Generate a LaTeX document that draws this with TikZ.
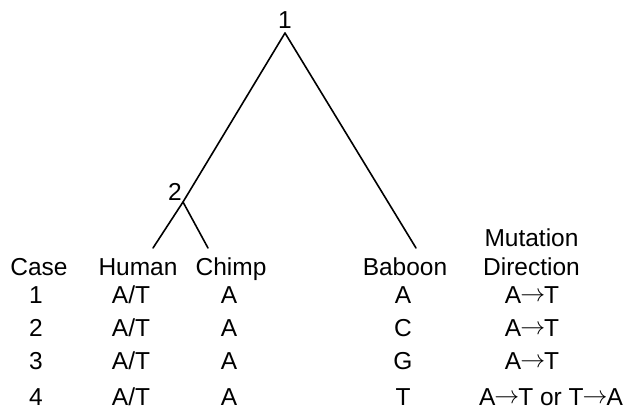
\documentclass[tikz,border=0pt]{standalone}
\usepackage{fontspec}
\setmainfont{Liberation Sans}
\newcommand{\mutarrow}{\kern-1pt\raisebox{1.5pt}{$\rightarrow$}\kern-1pt}
\begin{document}
\begin{tikzpicture}[x=1pt,y=-1pt,
  lbl/.style={anchor=base,inner sep=0pt,font=\fontsize{24.5}{28}\selectfont},
  branch/.style={line width=1.6pt,line cap=round,line join=round}]
\useasboundingbox (0,0) rectangle (627,410);
% tree vertices
\coordinate (r) at (285,33);
\coordinate (j) at (183,202);
\coordinate (hl) at (153,248);
\coordinate (cl) at (208,248);
\coordinate (bl) at (416,248);
\node[lbl] (n1) at (285,28) {1};
\node[lbl] (n2) at (175,200) {2};
\draw[branch] (r) -- (j) -- (hl);
\draw[branch] (j) -- (cl);
\draw[branch] (r) -- (bl);
% header
\node[lbl] (hcase) at (39,275) {Case};
\node[lbl] (hhum) at (138,275) {Human};
\node[lbl] (hchi) at (231,275) {Chimp};
\node[lbl] (hbab) at (405,275) {Baboon};
\node[lbl,align=center,font=\fontsize{24.5}{29}\selectfont] (hmut) at (531.5,275) {Mutation\\Direction};
% rows
\foreach \i/\y/\b in {1/303/A, 2/336/C, 3/369/G}{
  \node[lbl] (c\i) at (36,\y) {\i};
  \node[lbl] (h\i) at (131,\y) {A/T};
  \node[lbl] (ch\i) at (229,\y) {A};
  \node[lbl] (b\i) at (403,\y) {\b};
  \node[lbl] (m\i) at (532,\y) {A\mutarrow T};
}
\node[lbl] (c4) at (36,405) {4};
\node[lbl] (h4) at (131,405) {A/T};
\node[lbl] (ch4) at (229,405) {A};
\node[lbl] (b4) at (403,405) {T};
\node[lbl] (m4) at (551,405) {A\mutarrow T or T\mutarrow A};
\end{tikzpicture}
\end{document}
